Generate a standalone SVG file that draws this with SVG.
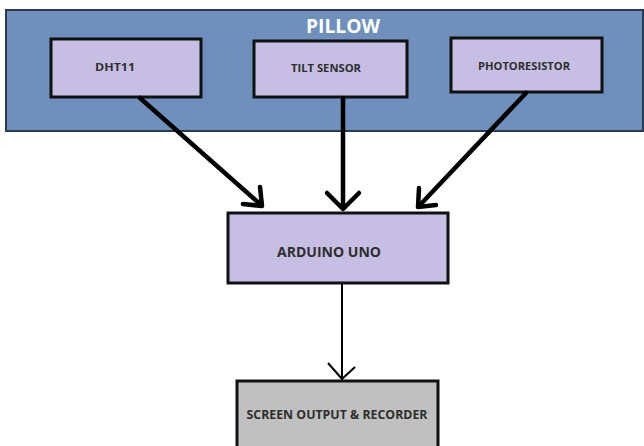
<svg xmlns="http://www.w3.org/2000/svg" width="644" height="446" viewBox="0 0 644 446">
<style>
.node{fill:#c6bfe3;stroke:#111;stroke-width:3}
.lbl{font-family:"Open Sans","Liberation Sans",sans-serif;font-weight:bold;fill:#2e2e2e;text-anchor:middle}
.thick{stroke:#000;stroke-width:4.5;fill:none;stroke-linecap:round;stroke-linejoin:round}
.thin{stroke:#000;stroke-width:2;fill:none}
</style>
<rect x="0" y="0" width="644" height="446" fill="#fff"/>
<g id="pillow">
<rect x="6" y="10" width="637" height="121" fill="#6f8fbd" stroke="#2b3a4c" stroke-width="2"/>
<text x="343" y="33" class="lbl" style="fill:#fff;font-size:20px" textLength="74" lengthAdjust="spacingAndGlyphs">PILLOW</text>
</g>
<g id="dht11">
<rect x="51" y="39" width="150" height="58" class="node"/>
<text x="115" y="71" class="lbl" font-size="10" textLength="40" lengthAdjust="spacingAndGlyphs" font-weight="normal">DHT11</text>
</g>
<g id="tilt">
<rect x="254" y="41" width="153" height="56" class="node"/>
<text x="326" y="72" class="lbl" font-size="10" textLength="70" lengthAdjust="spacingAndGlyphs">TILT SENSOR</text>
</g>
<g id="photo">
<rect x="451" y="38" width="151" height="54" class="node"/>
<text x="524" y="70" class="lbl" font-size="10" textLength="92" lengthAdjust="spacingAndGlyphs">PHOTORESISTOR</text>
</g>
<g id="arduino">
<rect x="228" y="213" width="220" height="70" class="node"/>
<text x="329" y="257" class="lbl" font-size="13.5" textLength="104" lengthAdjust="spacingAndGlyphs">ARDUINO UNO</text>
</g>
<g id="screen">
<rect x="237" y="381" width="201" height="70" fill="#c0c0c0" stroke="#111" stroke-width="3"/>
<text x="337" y="419" class="lbl" font-size="11.5" textLength="181" lengthAdjust="spacingAndGlyphs">SCREEN OUTPUT &amp; RECORDER</text>
</g>
<g id="connectors">
<line x1="140" y1="98" x2="261" y2="205" class="thick"/>
<polyline points="243,204 262,206 260,187" class="thick"/>
<line x1="343" y1="98" x2="343" y2="208" class="thick"/>
<polyline points="327,193 343,209 359,193" class="thick"/>
<line x1="526" y1="93" x2="419" y2="206" class="thick"/>
<polyline points="419,188 418,207 436,205" class="thick"/>
<line x1="342" y1="283" x2="342" y2="379" class="thick" style="stroke-width:2"/>
<polyline points="328,363 342,379 355,367" class="thin"/>
</g>
</svg>
